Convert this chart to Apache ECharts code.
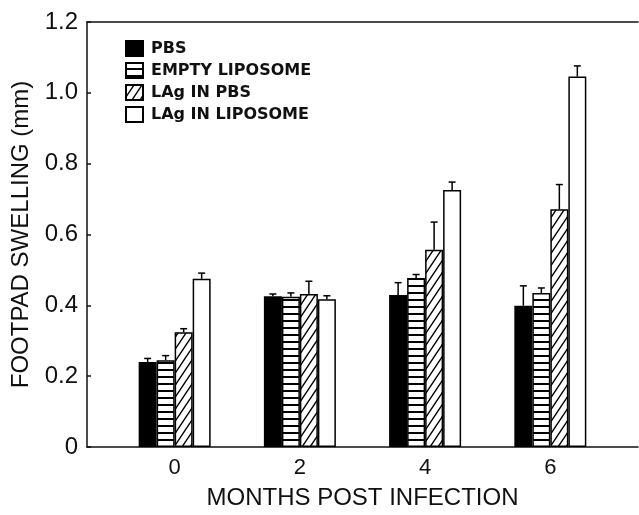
<!DOCTYPE html>
<html>
<head>
<meta charset="utf-8">
<script src="https://cdn.jsdelivr.net/npm/echarts@6/dist/echarts.min.js"></script>
<style>
  html, body { margin: 0; padding: 0; background: #fff; }
  #chart { width: 639px; height: 515px; }
</style>
</head>
<body>
<div id="chart"></div>
<script>
const months = [0, 2, 4, 6];
const seriesNames = ['PBS', 'EMPTY LIPOSOME', 'LAg IN PBS', 'LAg IN LIPOSOME'];
const pbs = [0.24, 0.426, 0.429, 0.399];
const emptyLipo = [0.245, 0.424, 0.477, 0.435];
const lagPbs = [0.324, 0.432, 0.557, 0.671];
const lagLipo = [0.475, 0.417, 0.726, 1.046];
const pbsErr = [0.01, 0.006, 0.035, 0.056];
const emptyLipoErr = [0.013, 0.011, 0.01, 0.014];
const lagPbsErr = [0.01, 0.036, 0.078, 0.07];
const lagLipoErr = [0.016, 0.01, 0.022, 0.03];
const yTicks = [0, 0.2, 0.4, 0.6, 0.8, 1.0, 1.2];

const values = [pbs, emptyLipo, lagPbs, lagLipo];
const errors = [pbsErr, emptyLipoErr, lagPbsErr, lagLipoErr];

// fill patterns
function stripes() {
  const c = document.createElement('canvas');
  c.width = 4; c.height = 7;
  const ctx = c.getContext('2d');
  ctx.fillStyle = '#fff';
  ctx.fillRect(0, 0, 4, 7);
  ctx.fillStyle = '#000';
  ctx.fillRect(0, 5, 4, 2);
  return c;
}
function hatch() {
  const w = 8, h = 12;
  const c = document.createElement('canvas');
  c.width = w; c.height = h;
  const ctx = c.getContext('2d');
  ctx.fillStyle = '#fff';
  ctx.fillRect(0, 0, w, h);
  ctx.strokeStyle = '#000';
  ctx.lineWidth = 1.4;
  ctx.beginPath();
  ctx.moveTo(0, h); ctx.lineTo(w, 0);
  ctx.moveTo(-w, h); ctx.lineTo(w, -h);
  ctx.moveTo(0, 2 * h); ctx.lineTo(2 * w, 0);
  ctx.stroke();
  return c;
}

const fills = [
  '#000',
  { image: stripes(), repeat: 'repeat' },
  { image: hatch(), repeat: 'repeat' },
  '#fff'
];

const barW = 18;
const axisFont = 'Liberation Sans';

const chart = echarts.init(document.getElementById('chart'));

const series = [];
seriesNames.forEach((name, i) => {
  series.push({
    name: name,
    type: 'bar',
    barWidth: barW,
    barGap: '0%',
    data: months.map((m, j) => [m, values[i][j]]),
    itemStyle: { color: fills[i], borderColor: '#000', borderWidth: 1.5 },
    emphasis: { disabled: true },
    z: 2
  });
});
// error bars, upper half only
seriesNames.forEach((name, i) => {
  series.push({
    type: 'custom',
    data: months.map((m, j) => [m, values[i][j], errors[i][j]]),
    z: 3,
    silent: true,
    renderItem: function (params, api) {
      const x = api.value(0), v = api.value(1), e = api.value(2);
      const base = api.coord([x, v]);
      const top = api.coord([x, v + e]);
      const cx = base[0] + (i - 1.5) * barW;
      const style = { stroke: '#000', lineWidth: 1.5 };
      return {
        type: 'group',
        children: [
          { type: 'line', shape: { x1: cx, y1: base[1], x2: cx, y2: top[1] }, style: style },
          { type: 'line', shape: { x1: cx - 3.5, y1: top[1], x2: cx + 3.5, y2: top[1] }, style: style }
        ]
      };
    }
  });
});

const option = {
  backgroundColor: '#fff',
  animation: false,
  grid: { left: 87, right: 1, top: 22, bottom: 63 },
  legend: {
    data: seriesNames,
    orient: 'vertical',
    left: 120,
    top: 35,
    itemWidth: 17,
    itemHeight: 15,
    itemGap: 5,
    icon: 'rect',
    selectedMode: false,
    textStyle: {
      fontFamily: 'DejaVu Sans',
      fontWeight: 'bold',
      fontSize: 16,
      lineHeight: 16,
      color: '#111',
      padding: [0, 0, 0, 3]
    }
  },
  xAxis: [
    {
      type: 'value',
      min: -1.4,
      max: 7.4,
      name: 'MONTHS POST INFECTION',
      nameLocation: 'middle',
      nameGap: 39,
      nameTextStyle: { fontFamily: axisFont, fontSize: 24, color: '#111' },
      axisLine: { onZero: false, lineStyle: { color: '#111', width: 1.5 } },
      axisTick: { show: false },
      splitLine: { show: false },
      axisLabel: {
        customValues: months,
        fontFamily: axisFont,
        fontSize: 22,
        color: '#111',
        margin: 10
      }
    },
    {
      type: 'value',
      position: 'top',
      min: -1.4,
      max: 7.4,
      axisLine: { show: true, onZero: false, lineStyle: { color: '#111', width: 1.5 } },
      axisTick: { show: false },
      axisLabel: { show: false },
      splitLine: { show: false }
    }
  ],
  yAxis: {
    type: 'value',
    min: 0,
    max: 1.2,
    interval: 0.2,
    name: 'FOOTPAD SWELLING (mm)',
    nameLocation: 'middle',
    nameGap: 54,
    nameTextStyle: { fontFamily: axisFont, fontSize: 24, color: '#111' },
    axisLine: { show: true, onZero: false, lineStyle: { color: '#111', width: 1.5 } },
    axisTick: { show: true, inside: true, length: 4, lineStyle: { color: '#111', width: 1.5 } },
    splitLine: { show: false },
    axisLabel: {
      customValues: yTicks,
      fontFamily: axisFont,
      fontSize: 24,
      color: '#111',
      margin: 9,
      formatter: v => (v === 0 ? '0' : v.toFixed(1))
    }
  },
  series: series
};

chart.setOption(option);
</script>
</body>
</html>
